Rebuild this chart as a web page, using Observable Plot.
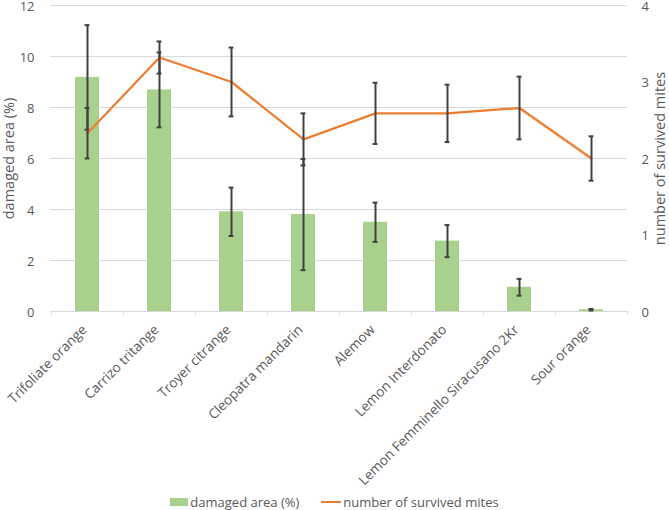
<!DOCTYPE html>
<html><head><meta charset="utf-8">
<script src="https://cdn.jsdelivr.net/npm/d3@7"></script>
<script src="https://cdn.jsdelivr.net/npm/@observablehq/plot@0.6"></script>
<style>
html,body{margin:0;padding:0;background:#fff;}
body{font-family:"Open Sans",sans-serif;color:#595959;width:669px;}
#chart svg{display:block;}
#legend{height:20px;display:flex;justify-content:center;align-items:center;font-size:13px;color:#595959;gap:22px;margin-top:2px;}
.item{display:flex;align-items:center;gap:2px;}
.sw-bar{width:18px;height:8px;background:#a9d18e;}
.sw-line{width:20px;height:2.5px;background:#ed7d31;}
</style></head><body>
<div id="chart"></div>
<div id="legend">
  <div class="item"><span class="sw-bar"></span><span>damaged area (%)</span></div>
  <div class="item"><span class="sw-line"></span><span>number of survived mites</span></div>
</div>
<script>
const categories = ["Trifoliate orange","Carrizo tritange","Troyer citrange","Cleopatra mandarin","Alemow","Lemon Interdonato","Lemon Femminello Siracusano 2Kr","Sour orange"];
const damagedArea = [9.18, 8.69, 3.91, 3.80, 3.50, 2.76, 0.95, 0.07];
const damagedErr  = [2.05, 1.47, 0.95, 2.18, 0.77, 0.63, 0.33, 0.03];
const survivedMites = [2.33, 3.32, 3.00, 2.25, 2.59, 2.59, 2.66, 2.00];
const mitesErr      = [0.33, 0.21, 0.45, 0.34, 0.40, 0.375, 0.41, 0.29];
const leftTicks = [0, 2, 4, 6, 8, 10, 12];
const rightTicks = [0, 1, 2, 3, 4];
const leftTitle = "damaged area (%)";
const rightTitle = "number of survived mites";

const ratio = 12 / 4;
const data = categories.map((c, i) => ({c, a: damagedArea[i], ae: damagedErr[i], m: survivedMites[i] * ratio, me: mitesErr[i] * ratio}));

const W = 669, H = 490, ML = 50, MR = 42, MT = 5, MB = 179;
const bw = (W - ML - MR) / categories.length;
const errColor = "#404040";
const capInset = bw / 2 - 2.5;

const chart = Plot.plot({
  width: W, height: H,
  marginTop: MT, marginBottom: MB, marginLeft: ML, marginRight: MR,
  style: {fontFamily: "Open Sans", fontSize: "13px", color: "#595959", background: "#fff"},
  x: {domain: categories, padding: 0, axis: null},
  y: {domain: [0, 12], axis: null},
  marks: [
    Plot.ruleY(leftTicks, {stroke: "#d9d9d9", strokeWidth: 1}),
    Plot.axisX({tickSize: 4, tickFormat: () => "", dx: -bw / 2, stroke: "#d9d9d9", label: null}),
    Plot.axisX([categories[categories.length - 1]], {tickSize: 4, tickFormat: () => "", dx: bw / 2, stroke: "#d9d9d9", label: null}),
    Plot.axisX({tickSize: 0, tickPadding: 16, dx: -3, tickRotate: -45, label: null, fontSize: 13.6, fill: "#595959"}),
    Plot.barY(data, {x: "c", y: "a", fill: "#a9d18e", insetLeft: 24, insetRight: 24}),
    Plot.ruleX(data, {x: "c", y1: d => d.a - d.ae, y2: d => d.a + d.ae, stroke: errColor, strokeWidth: 2}),
    Plot.tickY(data, {x: "c", y: d => d.a - d.ae, stroke: errColor, strokeWidth: 2, insetLeft: capInset, insetRight: capInset}),
    Plot.tickY(data, {x: "c", y: d => d.a + d.ae, stroke: errColor, strokeWidth: 2, insetLeft: capInset, insetRight: capInset}),
    Plot.line(data, {x: "c", y: "m", stroke: "#ed7d31", strokeWidth: 2.25}),
    Plot.ruleX(data, {x: "c", y1: d => d.m - d.me, y2: d => d.m + d.me, stroke: errColor, strokeWidth: 2}),
    Plot.tickY(data, {x: "c", y: d => d.m - d.me, stroke: errColor, strokeWidth: 2, insetLeft: capInset, insetRight: capInset}),
    Plot.tickY(data, {x: "c", y: d => d.m + d.me, stroke: errColor, strokeWidth: 2, insetLeft: capInset, insetRight: capInset}),
    Plot.axisY(leftTicks, {anchor: "left", tickSize: 0, tickPadding: 16, dy: 1, label: null, fontSize: 13, fill: "#595959"}),
    Plot.axisY(rightTicks.map(d => d * ratio), {anchor: "right", tickSize: 0, tickPadding: 14, dy: 1, tickFormat: d => d / ratio, label: null, fontSize: 13, fill: "#595959"}),
    Plot.text([leftTitle], {frameAnchor: "left", textAnchor: "middle", rotate: -90, dx: -41, text: d => d, fontSize: 14.5, fill: "#595959"}),
    Plot.text([rightTitle], {frameAnchor: "right", textAnchor: "middle", rotate: -90, dx: 33, text: d => d, fontSize: 14.5, fill: "#595959"})
  ]
});
document.getElementById("chart").appendChild(chart);
</script>
</body></html>
